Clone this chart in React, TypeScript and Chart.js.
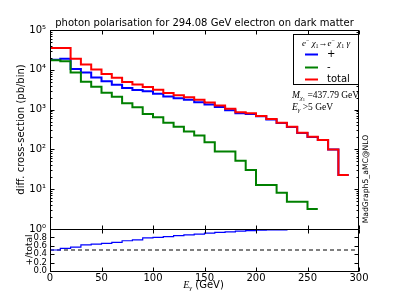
import React, { useEffect, useRef } from 'react';
import { Chart, registerables } from 'chart.js';

Chart.register(...registerables);

// ---------------- data ----------------
const binEdges = [0, 10, 20, 30, 40, 50, 60, 70, 80, 90, 100, 110, 120, 130, 140, 150, 160, 170, 180, 190, 200, 210, 220, 230, 240, 250, 260, 270, 280, 290];
// "+" polarisation (pb/bin), bins 0-290 GeV
const plusValues = [18000, 19000, 10500, 8500, 6400, 5150, 4200, 3500, 3100, 2900, 2500, 2130, 1930, 1760, 1540, 1350, 1170, 960, 808, 780, 677, 565, 460, 367, 258, 206, 172, 100, 22.7];
// "-" polarisation (pb/bin), bins 0-260 GeV
const minusValues = [17500, 16500, 8500, 5030, 3760, 2660, 2110, 1440, 1150, 777, 640, 468, 372, 281, 224, 152, 88, 88, 51.6, 30.3, 12.7, 12.7, 8.2, 4.85, 4.85, 3.2];
// total (pb/bin), bins 0-290 GeV
const totalValues = [35500, 35500, 19000, 13600, 10200, 7800, 6300, 4950, 4250, 3700, 3150, 2600, 2300, 2050, 1770, 1500, 1260, 1050, 860, 810, 690, 578, 468, 372, 263, 209, 172, 100, 22.7];
// "+"/total ratio, bins 0-260 GeV
const ratioValues = [0.50, 0.54, 0.57, 0.62, 0.64, 0.66, 0.68, 0.72, 0.74, 0.79, 0.80, 0.82, 0.84, 0.86, 0.88, 0.90, 0.92, 0.93, 0.95, 0.96, 0.97, 0.98, 0.98, 0.99, 0.99, 0.99];
const referenceLine = [0.5, 0.5];
const referenceX = [0, 300];

const xTickValues = [0, 50, 100, 150, 200, 250, 300];
const logTickValues = [1, 10, 100, 1000, 10000, 100000];
const ratioTickValues = [0, 0.2, 0.4, 0.6, 0.8];
const ratioFrameTicks = [0, 0.2, 0.4, 0.6, 0.8, 1.0];

const legendLabels = ['+', '-', 'total'];
const titleText = 'photon polarisation for 294.08 GeV electron on dark matter';
const yTitle = 'diff. cross-section (pb/bin)';
const ratioTitle = '+/total';
const generatorText = 'MadGraph5_aMC@NLO';

// ---------------- styling ----------------
const SANS = '"DejaVu Sans", sans-serif';
const SERIF = '"Liberation Serif", "DejaVu Serif", serif';
const BLUE = '#0000ff';
const GREEN = '#008000';
const RED = '#ff0000';
const SUP = ['⁰', '¹', '²', '³', '⁴', '⁵', '⁶'];

function steps(values: number[]) {
  const pts = values.map((v, i) => ({ x: binEdges[i], y: v }));
  pts.push({ x: binEdges[values.length], y: values[values.length - 1] });
  return pts;
}

type Run = { t: string; font: string; dy?: number };
function drawRuns(ctx: CanvasRenderingContext2D, runs: Run[], x: number, y: number, align: 'left' | 'center' = 'left') {
  let w = 0;
  for (const r of runs) {
    ctx.font = r.font;
    w += ctx.measureText(r.t).width;
  }
  let cx = align === 'center' ? x - w / 2 : x;
  ctx.textAlign = 'left';
  ctx.textBaseline = 'alphabetic';
  for (const r of runs) {
    ctx.font = r.font;
    ctx.fillText(r.t, cx, y + (r.dy || 0));
    cx += ctx.measureText(r.t).width;
  }
}

function framePlugin(yTicks: { v: number; len: number }[]) {
  return {
    id: 'frameTicks',
    afterDatasetsDraw(chart: any) {
      const { ctx, chartArea: a, scales } = chart;
      const L = Math.round(a.left) + 0.5;
      const R = Math.round(a.right) - 0.5;
      const T = Math.round(a.top) + 0.5;
      const B = Math.round(a.bottom) + 0.5;
      ctx.save();
      ctx.strokeStyle = '#000';
      ctx.lineWidth = 1;
      ctx.beginPath();
      for (const v of xTickValues) {
        const px = Math.round(scales.x.getPixelForValue(v)) + 0.5;
        ctx.moveTo(px, B); ctx.lineTo(px, B - 4);
        ctx.moveTo(px, T); ctx.lineTo(px, T + 4);
      }
      for (const t of yTicks) {
        const py = Math.round(scales.y.getPixelForValue(t.v)) + 0.5;
        ctx.moveTo(L, py); ctx.lineTo(L + t.len, py);
        ctx.moveTo(R, py); ctx.lineTo(R - t.len, py);
      }
      ctx.stroke();
      ctx.strokeRect(L, T, R - L, B - T);
      ctx.restore();
    },
  };
}

const logFrameTicks: { v: number; len: number }[] = [];
for (let d = 0; d < 5; d++) {
  for (let k = 1; k < 10; k++) logFrameTicks.push({ v: k * Math.pow(10, d), len: k === 1 ? 4 : 2 });
}
logFrameTicks.push({ v: 100000, len: 4 });

const mainTextPlugin = {
  id: 'mainText',
  afterDraw(chart: any) {
    const { ctx, chartArea: a } = chart;
    ctx.save();
    // legend box
    const bx = Math.round(a.right - 66.5) + 0.5;
    const by = Math.round(a.top + 4) + 0.5;
    ctx.fillStyle = '#fff';
    ctx.fillRect(bx, by, 65, 50);
    ctx.strokeStyle = '#000';
    ctx.lineWidth = 1;
    ctx.strokeRect(bx, by, 65, 50);
    ctx.fillStyle = '#000';
    const it = (s: number) => `italic ${s}px ${SERIF}`;
    const rm = (s: number) => `${s}px ${SERIF}`;
    drawRuns(ctx, [
      { t: 'e', font: it(9) },
      { t: '−', font: rm(6), dy: -3.5 },
      { t: ' ', font: rm(9) },
      { t: 'χ', font: it(9) },
      { t: '1', font: rm(6), dy: 2 },
      { t: '→', font: rm(9) },
      { t: 'e', font: it(9) },
      { t: '−', font: rm(6), dy: -3.5 },
      { t: ' ', font: rm(9) },
      { t: 'χ', font: it(9) },
      { t: '1', font: rm(6), dy: 2 },
      { t: ' ', font: rm(9) },
      { t: 'γ', font: it(9) },
    ], bx + 32.5, a.top + 15.5, 'center');
    const colors = [BLUE, GREEN, RED];
    legendLabels.forEach((lab, i) => {
      const y = Math.round(a.top + 24 + i * 12.5) + 0.5;
      ctx.strokeStyle = colors[i];
      ctx.lineWidth = 2;
      ctx.beginPath();
      ctx.moveTo(a.right - 54, y);
      ctx.lineTo(a.right - 41, y);
      ctx.stroke();
      ctx.fillStyle = '#000';
      ctx.font = `10px ${SANS}`;
      ctx.textAlign = 'left';
      ctx.textBaseline = 'middle';
      ctx.fillText(lab, a.right - 32, y);
    });
    // annotation
    ctx.fillStyle = '#000';
    drawRuns(ctx, [
      { t: 'M', font: it(9.5) },
      { t: 'χ', font: it(6.5), dy: 2 },
      { t: '1', font: rm(4.5), dy: 3.5 },
      { t: ' =437.79 GeV', font: rm(9.5) },
    ], a.right - 67, a.top + 67.5);
    drawRuns(ctx, [
      { t: 'E', font: it(9.5) },
      { t: 'γ', font: it(6.5), dy: 2.5 },
      { t: ' >5 GeV', font: rm(9.5) },
    ], a.right - 67, a.top + 79.5);
    // generator label
    ctx.translate(a.right + 7.5, a.top + 149);
    ctx.rotate(-Math.PI / 2);
    ctx.font = `7.7px ${SANS}`;
    ctx.textAlign = 'center';
    ctx.textBaseline = 'middle';
    ctx.fillText(generatorText, 0, 0);
    ctx.restore();
  },
};

const ratioTextPlugin = {
  id: 'ratioText',
  afterDraw(chart: any) {
    const { ctx, chartArea: a } = chart;
    ctx.save();
    ctx.fillStyle = '#000';
    drawRuns(ctx, [
      { t: 'E', font: `italic 10px ${SERIF}` },
      { t: 'γ', font: `italic 7px ${SERIF}`, dy: 2.5 },
      { t: ' (GeV)', font: `10px ${SANS}` },
    ], (a.left + a.right) / 2 - 1, a.bottom + 16.5, 'center');
    ctx.restore();
  },
};

export default function App() {
  const mainRef = useRef<HTMLCanvasElement>(null);
  const ratioRef = useRef<HTMLCanvasElement>(null);

  useEffect(() => {
    Chart.defaults.font.family = SANS;
    Chart.defaults.color = '#000';

    const lineDs = (label: string, values: number[], color: string, order: number, width = 2) => ({
      label,
      data: steps(values),
      borderColor: color,
      backgroundColor: color,
      borderWidth: width,
      pointRadius: 0,
      stepped: 'before' as const,
      fill: false,
      order,
    });

    const main = new Chart(mainRef.current!, {
      type: 'line',
      data: {
        datasets: [
          lineDs('total', totalValues, RED, 0),
          lineDs('-', minusValues, GREEN, 1),
          lineDs('+', plusValues, BLUE, 2),
        ],
      },
      options: {
        responsive: false,
        animation: false,
        events: [],
        layout: { padding: { left: 0, right: 40, top: 0, bottom: 70 } },
        plugins: {
          legend: { display: false },
          tooltip: { enabled: false },
          title: {
            display: true,
            text: titleText,
            fullSize: false,
            color: '#000',
            font: { family: SANS, size: 10, weight: 'normal' },
            padding: { top: 17, bottom: 1 },
          },
        },
        scales: {
          x: {
            type: 'linear',
            min: 0,
            max: 300,
            display: false,
          },
          y: {
            type: 'logarithmic',
            min: 1,
            max: 100000,
            grid: { display: false, drawTicks: false },
            border: { display: false },
            afterBuildTicks: (s: any) => { s.ticks = logTickValues.map((v) => ({ value: v })); },
            afterFit: (s: any) => { s.width = 50; },
            ticks: {
              autoSkip: false,
              padding: 4,
              font: { family: SANS, size: 10 },
              color: '#000',
              callback: (v: any) => '10' + SUP[Math.round(Math.log10(Number(v)))],
            },
            title: {
              display: true,
              text: yTitle,
              color: '#000',
              font: { family: SANS, size: 10 },
              padding: { top: 15, bottom: 0 },
            },
          },
        },
      },
      plugins: [framePlugin(logFrameTicks), mainTextPlugin],
    } as any);

    const ratio = new Chart(ratioRef.current!, {
      type: 'line',
      data: {
        datasets: [
          {
            label: '+/total',
            data: steps(ratioValues),
            borderColor: BLUE,
            borderWidth: 1.2,
            pointRadius: 0,
            stepped: 'before',
            fill: false,
            order: 0,
          },
          {
            label: 'half',
            data: referenceX.map((x, i) => ({ x, y: referenceLine[i] })),
            borderColor: '#000',
            borderWidth: 1,
            borderDash: [4, 3],
            pointRadius: 0,
            fill: false,
            order: 1,
          },
        ],
      },
      options: {
        responsive: false,
        animation: false,
        events: [],
        layout: { padding: { left: 0, right: 40, top: 229, bottom: 0 } },
        plugins: { legend: { display: false }, tooltip: { enabled: false } },
        scales: {
          x: {
            type: 'linear',
            min: 0,
            max: 300,
            grid: { display: false, drawTicks: false },
            border: { display: false },
            afterBuildTicks: (s: any) => { s.ticks = xTickValues.map((v) => ({ value: v })); },
            afterFit: (s: any) => { s.height = 28; },
            ticks: {
              autoSkip: false,
              maxRotation: 0,
              padding: 1,
              font: { family: SANS, size: 10 },
              color: '#000',
              callback: (v: any) => String(v),
            },
          },
          y: {
            type: 'linear',
            min: 0,
            max: 1,
            grid: { display: false, drawTicks: false },
            border: { display: false },
            afterBuildTicks: (s: any) => { s.ticks = ratioTickValues.map((v) => ({ value: v })); },
            afterFit: (s: any) => { s.width = 50; },
            ticks: {
              autoSkip: false,
              padding: 3,
              font: { family: SANS, size: 8.5 },
              color: '#000',
              callback: (v: any) => Number(v).toFixed(1),
            },
            title: {
              display: true,
              text: ratioTitle,
              color: '#000',
              font: { family: SANS, size: 9 },
              padding: { top: 24, bottom: 0 },
            },
          },
        },
      },
      plugins: [framePlugin(ratioFrameTicks.map((v) => ({ v, len: 4 }))), ratioTextPlugin],
    } as any);

    return () => {
      main.destroy();
      ratio.destroy();
    };
  }, []);

  return (
    <div style={{ position: 'fixed', left: 0, top: 0, width: 399, height: 299, background: '#fff' }}>
      <canvas ref={mainRef} width={399} height={299} style={{ position: 'absolute', left: 0, top: 0 }} />
      <canvas ref={ratioRef} width={399} height={299} style={{ position: 'absolute', left: 0, top: 0 }} />
    </div>
  );
}
